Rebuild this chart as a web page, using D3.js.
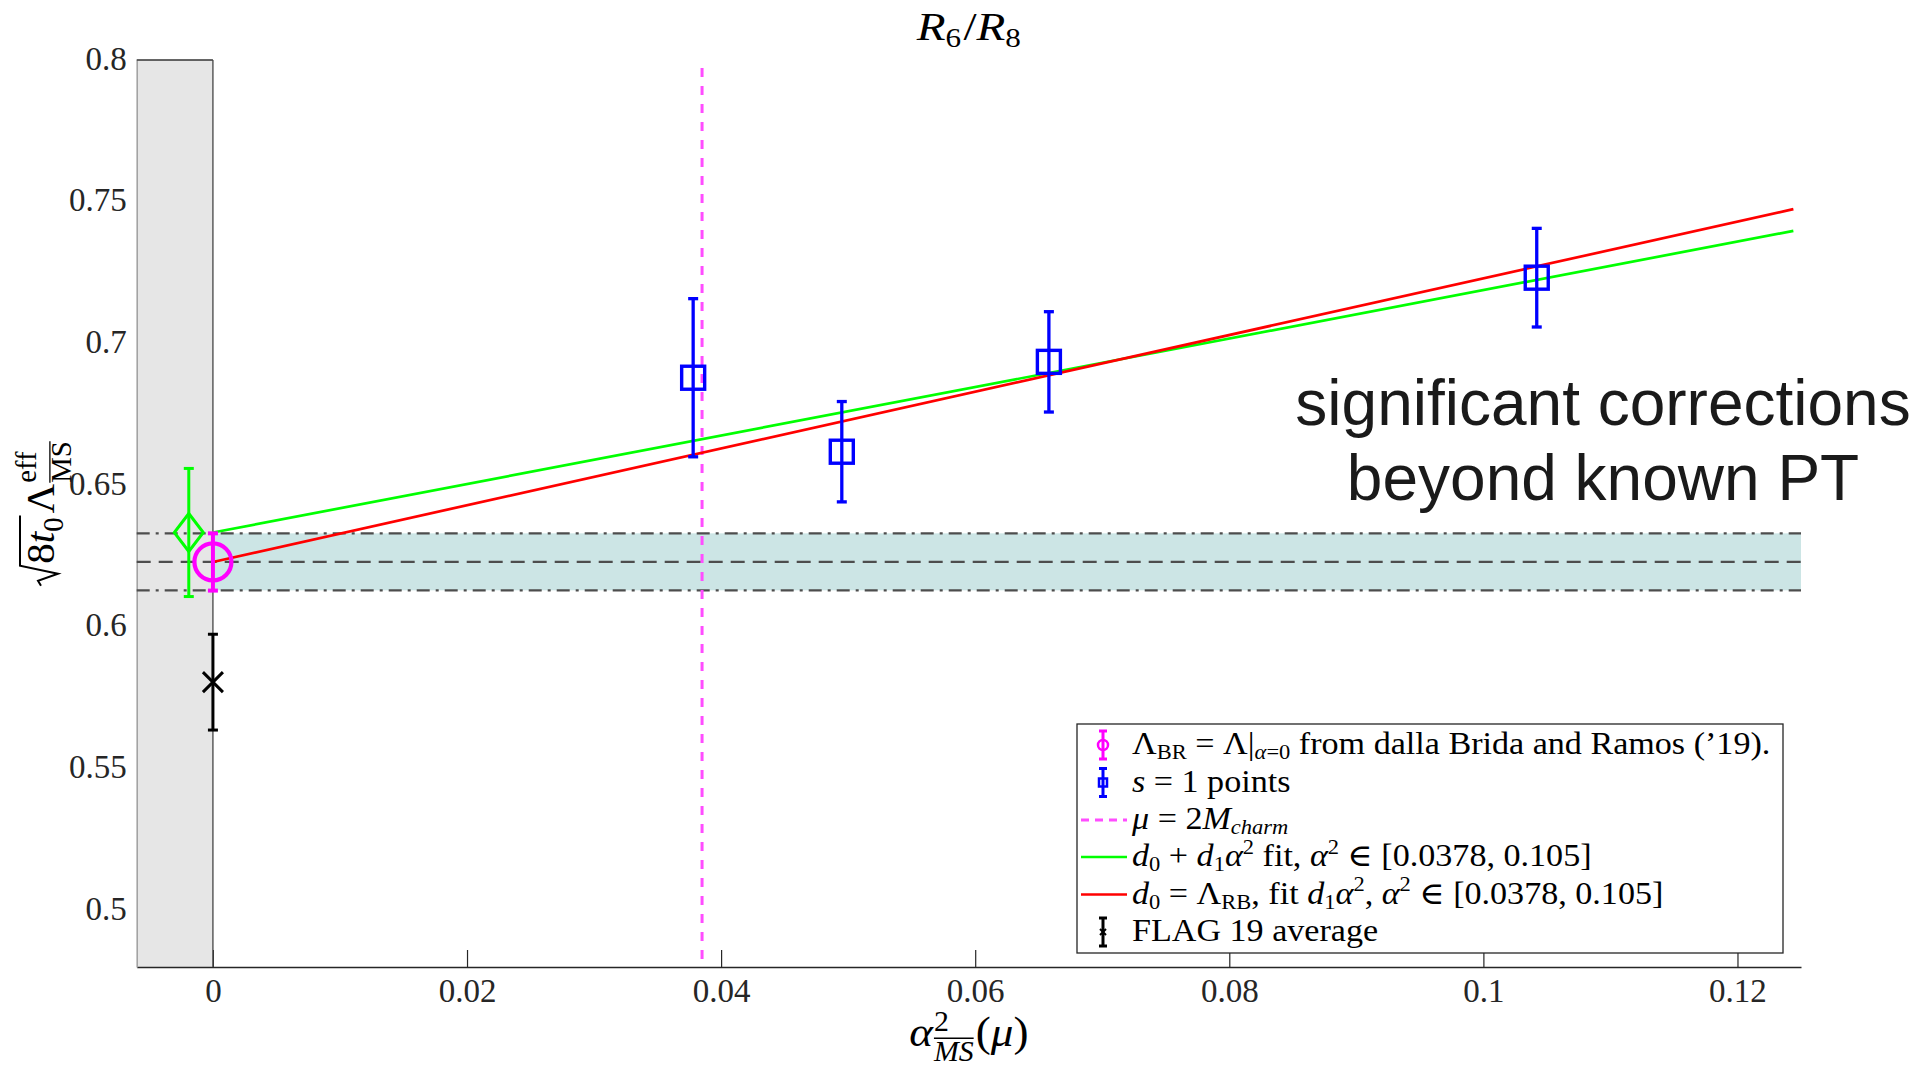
<!DOCTYPE html>
<html><head><meta charset="utf-8">
<script src="https://cdn.jsdelivr.net/npm/d3@7"></script>
<style>body{margin:0;background:#fff} svg{display:block}</style>
</head><body>
<svg id="c" width="1932" height="1066"></svg>
<script>
// ---------- data ----------
const xDomain = [-0.006, 0.125];
const yDomain = [0.48, 0.8];
const xTicks = [0, 0.02, 0.04, 0.06, 0.08, 0.1, 0.12];
const xTickLabels = ["0", "0.02", "0.04", "0.06", "0.08", "0.1", "0.12"];
const yTicks = [0.5, 0.55, 0.6, 0.65, 0.7, 0.75, 0.8];
const yTickLabels = ["0.5", "0.55", "0.6", "0.65", "0.7", "0.75", "0.8"];

const s1X = [0.0378, 0.0495, 0.0658, 0.1042];
const s1Y = [0.6879, 0.6618, 0.6935, 0.7232];
const s1Err = [0.0279, 0.0177, 0.0177, 0.0174];

const brX = [0], brY = [0.6229], brErr = [0.0101];
const fitX = [-0.0019], fitY = [0.6333], fitErr = [0.0226];
const flagX = [0], flagY = [0.5805], flagErr = [0.0169];

const bandY = [0.6129, 0.6229, 0.6330];   // low, centre, high
const charmX = [0.0385];
const lineX = [0, 0.1244];
const greenY = [0.6333, 0.7397];
const redY = [0.6229, 0.7474];
const excludedX = [-0.006, 0];

const annotation = ["significant corrections", "beyond known PT"];

// ---------- setup ----------
const SERIF = '"Liberation Serif", "DejaVu Serif", serif';
const SANS = '"Liberation Sans", Arial, sans-serif';
const svg = d3.select("#c");
const x = d3.scaleLinear().domain(xDomain).range([136.7, 1801]);
const y = d3.scaleLinear().domain(yDomain).range([967, 60]);
const AX = "#262626";

// excluded (grey) region
svg.append("rect")
  .attr("x", x(excludedX[0])).attr("y", y(yDomain[1]))
  .attr("width", x(excludedX[1]) - x(excludedX[0]))
  .attr("height", y(yDomain[0]) - y(yDomain[1]))
  .attr("fill", "#e6e6e6");

// axes
const xAxis = svg.append("g").attr("transform", `translate(0,${y(yDomain[0])})`)
  .call(d3.axisBottom(x).tickValues(xTicks).tickSize(-17).tickSizeOuter(0)
        .tickFormat((d, i) => xTickLabels[i]));
const yAxis = svg.append("g").attr("transform", `translate(${x(xDomain[0])},0)`)
  .call(d3.axisLeft(y).tickValues(yTicks).tickSize(0).tickSizeOuter(0)
        .tickFormat((d, i) => yTickLabels[i]));
[xAxis, yAxis].forEach(a => {
  a.select(".domain").attr("stroke", AX).attr("stroke-width", 1.5);
  a.selectAll(".tick line").attr("stroke", AX).attr("stroke-width", 1.2);
  a.selectAll("text").attr("font-family", SERIF).attr("font-size", 33).attr("fill", "#262626");
});
xAxis.selectAll("text").attr("y", 35).attr("dy", 0);
yAxis.selectAll("text").attr("x", -10).attr("dy", 9);
yAxis.select(".domain").attr("stroke", "#a0a0a0");

// grey region edges
svg.append("line").attr("x1", x(excludedX[0])).attr("x2", x(excludedX[1]))
  .attr("y1", y(yDomain[1])).attr("y2", y(yDomain[1])).attr("stroke", "#333").attr("stroke-width", 1.3);
svg.append("line").attr("x1", x(excludedX[1])).attr("x2", x(excludedX[1]))
  .attr("y1", y(yDomain[1])).attr("y2", y(yDomain[0])).attr("stroke", "#444").attr("stroke-width", 1.3);

// band
svg.append("rect")
  .attr("x", x(0)).attr("y", y(bandY[2]))
  .attr("width", x(xDomain[1]) - x(0))
  .attr("height", y(bandY[0]) - y(bandY[2]))
  .attr("fill", "#cce5e5");
[[bandY[2], "13,6,3,6"], [bandY[1], "14,8"], [bandY[0], "13,6,3,6"]].forEach(([v, da]) => {
  svg.append("line").attr("x1", x(xDomain[0])).attr("x2", x(xDomain[1]))
    .attr("y1", y(v)).attr("y2", y(v))
    .attr("stroke", "#4d4d4d").attr("stroke-width", 2.3).attr("stroke-dasharray", da);
});

// charm line
svg.append("line").attr("x1", x(charmX[0])).attr("x2", x(charmX[0]))
  .attr("y1", y(yDomain[1]) + 8).attr("y2", y(yDomain[0]))
  .attr("stroke", "#ff4dff").attr("stroke-width", 3).attr("stroke-dasharray", "9,9");

// fit lines
const lineGen = d3.line().x(d => x(d[0])).y(d => y(d[1]));
svg.append("path").datum(lineX.map((v, i) => [v, greenY[i]])).attr("d", lineGen)
  .attr("fill", "none").attr("stroke", "#00ff00").attr("stroke-width", 2.7);
svg.append("path").datum(lineX.map((v, i) => [v, redY[i]])).attr("d", lineGen)
  .attr("fill", "none").attr("stroke", "#ff0000").attr("stroke-width", 2.7);

// error bars
function errbar(g, cx, cy, lo, hi, color, w, cap) {
  g.append("line").attr("x1", cx).attr("x2", cx).attr("y1", lo).attr("y2", hi)
    .attr("stroke", color).attr("stroke-width", w);
  [lo, hi].forEach(yy => g.append("line").attr("x1", cx - cap).attr("x2", cx + cap)
    .attr("y1", yy).attr("y2", yy).attr("stroke", color).attr("stroke-width", w));
}
const pts = svg.append("g");
// green diamond
fitX.forEach((v, i) => {
  const cx = x(v), cy = y(fitY[i]);
  errbar(pts, cx, cy, y(fitY[i] - fitErr[i]), y(fitY[i] + fitErr[i]), "#00ff00", 3, 5);
  pts.append("path").attr("d", `M${cx},${cy - 19}L${cx + 14.5},${cy}L${cx},${cy + 19}L${cx - 14.5},${cy}Z`)
    .attr("fill", "none").attr("stroke", "#00ff00").attr("stroke-width", 3);
});
// magenta circle
brX.forEach((v, i) => {
  const cx = x(v), cy = y(brY[i]);
  errbar(pts, cx, cy, y(brY[i] - brErr[i]), y(brY[i] + brErr[i]), "#ff00ff", 4, 5);
  pts.append("circle").attr("cx", cx).attr("cy", cy).attr("r", 18.5)
    .attr("fill", "none").attr("stroke", "#ff00ff").attr("stroke-width", 4.2);
});
// black cross
flagX.forEach((v, i) => {
  const cx = x(v), cy = y(flagY[i]);
  errbar(pts, cx, cy, y(flagY[i] - flagErr[i]), y(flagY[i] + flagErr[i]), "#000", 3, 5);
  pts.append("path").attr("d", `M${cx - 10},${cy - 10}L${cx + 10},${cy + 10}M${cx - 10},${cy + 10}L${cx + 10},${cy - 10}`)
    .attr("stroke", "#000").attr("stroke-width", 3);
});
// blue squares
s1X.forEach((v, i) => {
  const cx = x(v), cy = y(s1Y[i]);
  errbar(pts, cx, cy, y(s1Y[i] - s1Err[i]), y(s1Y[i] + s1Err[i]), "#0000ff", 3.3, 5);
  pts.append("rect").attr("x", cx - 11.5).attr("y", cy - 11.5).attr("width", 23).attr("height", 23)
    .attr("fill", "none").attr("stroke", "#0000ff").attr("stroke-width", 3.4);
});

// ---------- rich text helper ----------
function rich(g, x0, y0, segs, fs, family) {
  const t = g.append("text").attr("x", x0).attr("y", y0).attr("font-size", fs)
    .attr("font-family", family || SERIF).attr("fill", "#000");
  let cur = 0;
  segs.forEach(s => {
    const off = s.p === "s" ? 0.17 * fs : s.p === "p" ? -0.4 * fs : 0;
    const ts = t.append("tspan").attr("dy", off - cur)
      .attr("font-size", s.p ? 0.66 * fs : fs)
      .attr("font-style", s.i ? "italic" : "normal")
      .text(s.t);
    if (s.dx) ts.attr("dx", s.dx);
    cur = off;
  });
  return t;
}

// ---------- legend ----------
const lg = svg.append("g");
lg.append("rect").attr("x", 1077).attr("y", 724).attr("width", 706).attr("height", 229)
  .attr("fill", "#fff").attr("stroke", "#262626").attr("stroke-width", 1.3);
const rowY = [745, 782.5, 820, 857, 894.5, 932];
const iconX = 1103, txtX = 1132, LFS = 31;
// row icons
errbar(lg, iconX, rowY[0], rowY[0] + 14, rowY[0] - 14, "#ff00ff", 3, 4);
lg.append("circle").attr("cx", iconX).attr("cy", rowY[0]).attr("r", 5).attr("fill", "none").attr("stroke", "#ff00ff").attr("stroke-width", 2.5);
errbar(lg, iconX, rowY[1], rowY[1] + 14, rowY[1] - 14, "#0000ff", 3, 4);
lg.append("rect").attr("x", iconX - 4).attr("y", rowY[1] - 4).attr("width", 8).attr("height", 8).attr("fill", "none").attr("stroke", "#0000ff").attr("stroke-width", 2.5);
lg.append("line").attr("x1", 1081).attr("x2", 1127).attr("y1", rowY[2]).attr("y2", rowY[2])
  .attr("stroke", "#ff4dff").attr("stroke-width", 2.8).attr("stroke-dasharray", "8,6");
lg.append("line").attr("x1", 1081).attr("x2", 1127).attr("y1", rowY[3]).attr("y2", rowY[3])
  .attr("stroke", "#00ff00").attr("stroke-width", 2.7);
lg.append("line").attr("x1", 1081).attr("x2", 1127).attr("y1", rowY[4]).attr("y2", rowY[4])
  .attr("stroke", "#ff0000").attr("stroke-width", 2.7);
errbar(lg, iconX, rowY[5], rowY[5] + 14, rowY[5] - 14, "#000", 3, 4);
lg.append("path").attr("d", `M${iconX - 3},${rowY[5] - 3}L${iconX + 3},${rowY[5] + 3}M${iconX - 3},${rowY[5] + 3}L${iconX + 3},${rowY[5] - 3}`)
  .attr("stroke", "#000").attr("stroke-width", 2);

const legendRows = [
  [{t: "Λ"}, {t: "BR", p: "s"}, {t: " = Λ|"}, {t: "α", i: 1, p: "s"}, {t: "=0", p: "s"}, {t: " from dalla Brida and Ramos (’19)."}],
  [{t: "s", i: 1}, {t: " = 1 points"}],
  [{t: "μ", i: 1}, {t: " = 2"}, {t: "M", i: 1}, {t: "charm", i: 1, p: "s"}],
  [{t: "d", i: 1}, {t: "0", p: "s"}, {t: " + "}, {t: "d", i: 1}, {t: "1", p: "s"}, {t: "α", i: 1}, {t: "2", p: "p"}, {t: " fit, "}, {t: "α", i: 1}, {t: "2", p: "p"}, {t: " ∈ [0.0378, 0.105]"}],
  [{t: "d", i: 1}, {t: "0", p: "s"}, {t: " = Λ"}, {t: "RB", p: "s"}, {t: ", fit "}, {t: "d", i: 1}, {t: "1", p: "s"}, {t: "α", i: 1}, {t: "2", p: "p"}, {t: ", "}, {t: "α", i: 1}, {t: "2", p: "p"}, {t: " ∈ [0.0378, 0.105]"}],
  [{t: "FLAG 19 average"}]
];
legendRows.forEach((segs, i) => {
  const t = rich(lg, 0, 0, segs, LFS);
  t.attr("transform", `translate(${txtX},${rowY[i] + 9}) scale(1.1,1)`);
});

// ---------- title ----------
const title = rich(svg, 0, 0, [{t: "R", i: 1}, {t: "6", p: "s"}, {t: "/", dx: 2}, {t: "R", i: 1}, {t: "8", p: "s"}], 41);
title.attr("text-anchor", "middle")
  .attr("transform", `translate(${(x.range()[0] + x.range()[1]) / 2},40) scale(1.15,1)`);

// ---------- x label (stacked super/sub) ----------
function stackedLabel(g, fs, base, supT, subT, subItalic, tail) {
  const grp = g.append("g");
  const a = grp.append("text").attr("font-family", SERIF).attr("font-size", fs).attr("font-style", base.i ? "italic" : "normal").text(base.t);
  let cx = a.node().getComputedTextLength();
  const sup = grp.append("text").attr("x", cx + 1).attr("y", -0.34 * fs).attr("font-family", SERIF)
    .attr("font-size", 0.66 * fs).text(supT);
  const sub = grp.append("text").attr("x", cx + 1).attr("y", 0.36 * fs).attr("font-family", SERIF)
    .attr("font-size", 0.66 * fs).attr("font-style", subItalic ? "italic" : "normal").text(subT);
  const ws = sub.node().getComputedTextLength();
  grp.append("line").attr("x1", cx + 1).attr("x2", cx + 1 + ws).attr("y1", 0.36 * fs - 0.54 * fs).attr("y2", 0.36 * fs - 0.54 * fs)
    .attr("stroke", "#000").attr("stroke-width", 1.3);
  cx += 1 + Math.max(ws, sup.node().getComputedTextLength()) + 2;
  const tl = grp.append("text").attr("x", cx).attr("font-family", SERIF).attr("font-size", fs);
  tail.forEach(s => tl.append("tspan").attr("font-style", s.i ? "italic" : "normal").text(s.t));
  return grp;
}
const xl = stackedLabel(svg, 43, {t: "α", i: 1}, "2", "MS", true, [{t: "("}, {t: "μ", i: 1}, {t: ")"}]);
{
  const bb = xl.node().getBBox();
  xl.attr("transform", `translate(${(x.range()[0] + x.range()[1]) / 2 - bb.width * 1.05 / 2},1046) scale(1.05,1)`);
}

// ---------- y label ----------
{
  const fs = 41;
  const grp = svg.append("g");
  const inner = grp.append("g");
  const num = inner.append("text").attr("x", 22).attr("font-family", SERIF).attr("font-size", fs);
  num.append("tspan").text("8");
  num.append("tspan").attr("font-style", "italic").text("t");
  num.append("tspan").attr("font-size", 0.7 * fs).attr("dy", 0.22 * fs).text("0");
  const nw = num.node().getComputedTextLength();
  inner.append("path")
    .attr("d", `M0,-13 L5,-16 L12,4 L20,-34 L${22 + nw + 2},-34`)
    .attr("fill", "none").attr("stroke", "#000").attr("stroke-width", 2);
  let cx = 22 + nw + 4;
  const lam = inner.append("text").attr("x", cx).attr("font-family", SERIF).attr("font-size", fs).text("Λ");
  cx += lam.node().getComputedTextLength() + 1;
  const sup = inner.append("text").attr("x", cx).attr("y", -0.45 * fs).attr("font-family", SERIF).attr("font-size", 0.7 * fs).text("eff");
  const sub = inner.append("text").attr("x", cx).attr("y", 0.42 * fs).attr("font-family", SERIF).attr("font-size", 0.7 * fs).text("MS");
  const ws = sub.node().getComputedTextLength();
  inner.append("line").attr("x1", cx).attr("x2", cx + ws).attr("y1", 0.42 * fs - 0.52 * fs).attr("y2", 0.42 * fs - 0.52 * fs)
    .attr("stroke", "#000").attr("stroke-width", 1.3);
  const total = cx + Math.max(ws, sup.node().getComputedTextLength());
  inner.attr("transform", `translate(${-total / 2},0)`);
  grp.attr("transform", `translate(54,${(y.range()[0] + y.range()[1]) / 2}) rotate(-90)`);
}

// ---------- annotation ----------
annotation.forEach((line, i) => {
  svg.append("text").attr("x", 1603).attr("y", 425 + i * 75).attr("text-anchor", "middle")
    .attr("font-family", SANS).attr("font-size", 64).attr("fill", "#1a1a1a").text(line);
});
</script>
</body></html>
